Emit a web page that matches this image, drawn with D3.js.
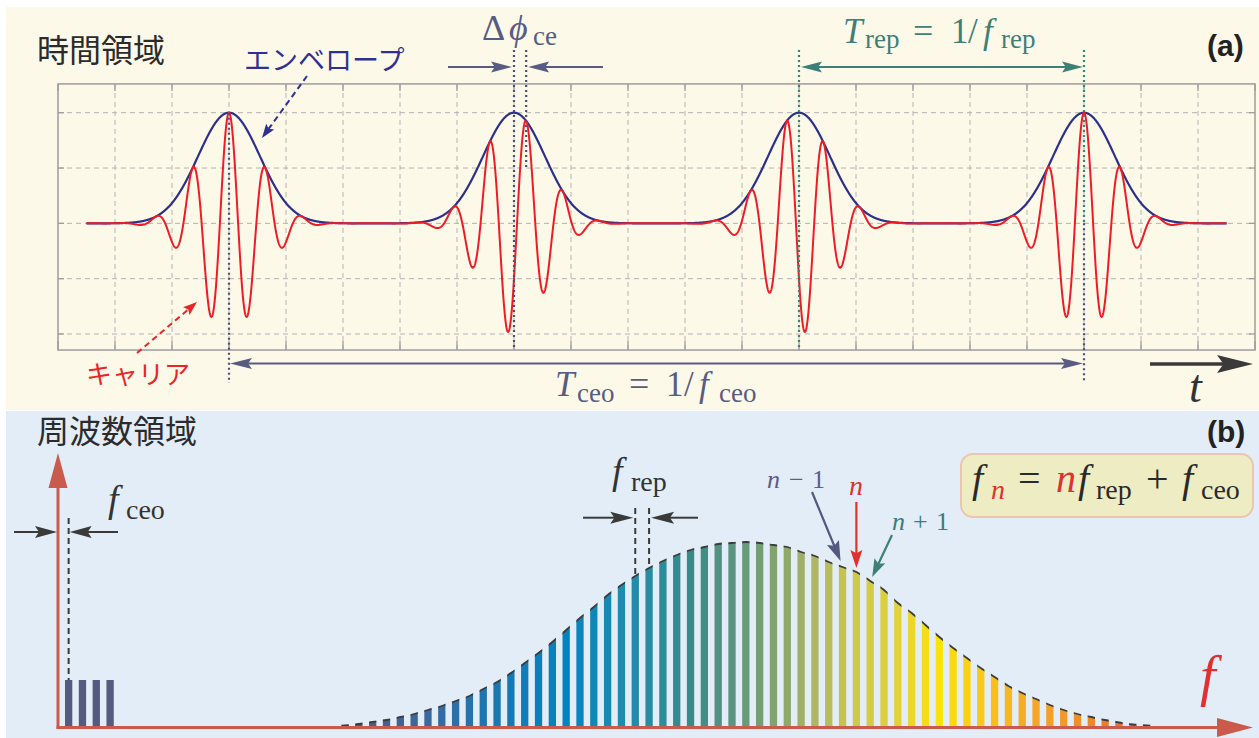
<!DOCTYPE html>
<html>
<head>
<meta charset="utf-8">
<script src="https://cdn.jsdelivr.net/npm/d3@7"></script>
<style>
  html, body { margin: 0; padding: 0; background: #ffffff; }
  svg { display: block; }
</style>
</head>
<body>
<div id="chart"></div>
<script>
// ---- (a) time domain ----
const gridCols = d3.range(0, 22);              // one column per grid unit
const gridRows = [-1, -0.5, 0, 0.5, 1];
const pulseCenters = [3, 8, 13, 18];
const carrierPhases = [0, 1 / 3, 2 / 3, 1];    // carrier shift, in cycles
const carrierPeriod = 0.64;
const envelopeWidth = 0.543;
const traceSpan = [0.5, 20.5];

// ---- (b) frequency domain ----
const fceo = 0.77;                             // offset, in units of f_rep
const offsetModes = [0, 1, 2, 3];
const offsetPower = [46, 46, 46, 46];
const combFirstMode = 20;
const combPower = [0.5, 2, 4, 6, 9, 12, 16, 20, 25, 30, 37, 44, 53, 63, 73, 84, 96, 108, 119, 131,
  141, 150, 158, 165, 171, 176, 179, 182, 183, 184, 183, 181, 179, 174, 170, 164, 159, 154, 145, 136,
  123, 113, 101, 89, 78, 68, 58, 49, 40, 33, 27, 21, 16, 12, 9, 6, 3.5, 1.5, 0.5];
const colorStops = [0, 6, 12, 16, 20, 23, 25, 28, 31, 34, 37, 40, 43, 46, 49, 52, 55, 58];
const colorValues = ['#4a5887', '#3a69a0', '#127ab6', '#0284c0', '#1d8cae', '#2b8c9c', '#388a86',
  '#5a9580', '#82a270', '#adb660', '#cfc94a', '#e2d23a', '#fde20a', '#f9c818', '#f5ae24',
  '#f19a2a', '#ec7e28', '#e46428'];

const W = 1259, H = 738;
const serif = "'Liberation Serif', 'Times New Roman', serif";
const cjk = "'Noto Sans CJK JP', 'Noto Sans', sans-serif";
const slate = '#585b82', navy = '#2e3192', teal = '#3e7f78', red = '#e8262a';

const svg = d3.select('#chart').append('svg')
  .attr('width', W)
  .attr('height', H);
const defs = svg.append('defs');

svg.append('rect').attr('x', 6).attr('y', 7).attr('width', W - 6).attr('height', 403).attr('fill', '#fdf9e8');
svg.append('rect').attr('x', 6).attr('y', 411).attr('width', W - 6).attr('height', H - 411).attr('fill', '#e3edf7');

// helpers
const arrowHead = (g, x, y, ang, len, wid, color) => {
  const p = [[0, 0], [-len, -wid / 2], [-len * 0.82, 0], [-len, wid / 2]];
  g.append('path')
    .attr('d', 'M' + p.map(d => d.join(',')).join('L') + 'Z')
    .attr('transform', `translate(${x},${y}) rotate(${ang * 180 / Math.PI})`)
    .attr('fill', color);
};

const arrow = (g, x1, y1, x2, y2, o) => {
  const ang = Math.atan2(y2 - y1, x2 - x1);
  const back = o.len * 0.8;
  const sx = o.both ? x1 + Math.cos(ang) * back : x1;
  const sy = o.both ? y1 + Math.sin(ang) * back : y1;
  g.append('line')
    .attr('x1', sx).attr('y1', sy)
    .attr('x2', x2 - Math.cos(ang) * back).attr('y2', y2 - Math.sin(ang) * back)
    .attr('stroke', o.color)
    .attr('stroke-width', o.width)
    .attr('stroke-dasharray', o.dash || null);
  arrowHead(g, x2, y2, ang, o.len, o.wid, o.color);
  if (o.both) arrowHead(g, x1, y1, ang + Math.PI, o.len, o.wid, o.color);
};

const label = (g, parts, color, family) => {
  for (const p of parts) {
    g.append('text')
      .attr('x', p.x)
      .attr('y', p.y)
      .style('font-family', family || serif)
      .style('font-size', p.s + 'px')
      .style('font-style', p.i ? 'italic' : 'normal')
      .style('font-weight', p.b ? 'bold' : 'normal')
      .attr('fill', p.c || color)
      .text(p.t);
  }
};

const vline = (g, x, y1, y2, color, dash, width) => {
  g.append('line')
    .attr('x1', x).attr('x2', x).attr('y1', y1).attr('y2', y2)
    .attr('stroke', color)
    .attr('stroke-width', width)
    .attr('stroke-dasharray', dash);
};

// ================= (a) =================
const tx = d3.scaleLinear().domain([0, 21]).range([58, 1255]);
const ay = d3.scaleLinear().domain([-1, 1]).range([334, 112.7]);
const yExtent = [-1.145, 1.26];
const yTop = ay(yExtent[1]), yBottom = ay(yExtent[0]);

const ga = svg.append('g');
ga.selectAll('.vgrid')
  .data(gridCols.slice(1, -1))
  .enter()
  .append('line')
  .attr('x1', d => tx(d)).attr('x2', d => tx(d))
  .attr('y1', yTop).attr('y2', yBottom)
  .attr('stroke', '#b2b2b2')
  .attr('stroke-dasharray', '5,4');
ga.selectAll('.hgrid')
  .data(gridRows)
  .enter()
  .append('line')
  .attr('x1', tx(0)).attr('x2', tx(21))
  .attr('y1', d => ay(d)).attr('y2', d => ay(d))
  .attr('stroke', '#b2b2b2')
  .attr('stroke-dasharray', '5,4');
// ticks
ga.selectAll('.btick')
  .data(gridCols)
  .enter()
  .append('line')
  .attr('x1', d => tx(d)).attr('x2', d => tx(d))
  .attr('y1', yBottom).attr('y2', yBottom - 9)
  .attr('stroke', '#9c9c9c').attr('stroke-width', 1.3);
ga.selectAll('.ttick')
  .data(gridCols)
  .enter()
  .append('line')
  .attr('x1', d => tx(d)).attr('x2', d => tx(d))
  .attr('y1', yTop).attr('y2', yTop + 7)
  .attr('stroke', '#9c9c9c').attr('stroke-width', 1.3);
for (const side of [0, 21]) {
  ga.selectAll('.stick' + side)
    .data(gridRows)
    .enter()
    .append('line')
    .attr('x1', tx(side)).attr('x2', tx(side) + (side === 0 ? 6 : -6))
    .attr('y1', d => ay(d)).attr('y2', d => ay(d))
    .attr('stroke', '#9c9c9c').attr('stroke-width', 1.3);
}
ga.append('rect')
  .attr('x', tx(0)).attr('y', yTop)
  .attr('width', tx(21) - tx(0)).attr('height', yBottom - yTop)
  .attr('fill', 'none')
  .attr('stroke', '#9c9c9c')
  .attr('stroke-width', 1.5);

// waveforms
const gauss = (t, c) => Math.exp(-((t - c) ** 2) / (2 * envelopeWidth ** 2));
const samples = d3.range(traceSpan[0], traceSpan[1] + 1e-9, 0.004);
const envelope = samples.map(t => [t, d3.max(pulseCenters, c => gauss(t, c))]);
const carrier = samples.map(t => [t, d3.sum(pulseCenters, (c, i) =>
  gauss(t, c) * Math.cos(2 * Math.PI * ((t - c) / carrierPeriod - carrierPhases[i])))]);
const wave = d3.line().x(d => tx(d[0])).y(d => ay(d[1]));

ga.append('path').attr('d', wave(envelope))
  .attr('fill', 'none').attr('stroke', '#2d2f8c').attr('stroke-width', 2.2);
ga.append('path').attr('d', wave(carrier))
  .attr('fill', 'none').attr('stroke', '#ee1c24').attr('stroke-width', 2);

// dotted markers
const dot = '2,3';
vline(ga, tx(pulseCenters[0]), ay(1), 383, '#4b4f80', dot, 2.2);
vline(ga, tx(pulseCenters[1]), 50, yBottom, '#4b4f80', dot, 2.2);
vline(ga, tx(pulseCenters[1] + carrierPeriod * carrierPhases[1]), 50, ay(0.5), '#4b4f80', dot, 2.2);
vline(ga, tx(pulseCenters[2]), 50, yBottom, '#2f8a7a', dot, 2.2);
vline(ga, tx(pulseCenters[3]), ay(0), 383, '#4b4f80', dot, 2.2);
vline(ga, tx(pulseCenters[3]), 50, ay(0), '#2f8a7a', dot, 2.2);

// arrows (a)
const xA = tx(pulseCenters[1]), xB = tx(pulseCenters[1] + carrierPeriod * carrierPhases[1]);
arrow(ga, 448, 67, xA - 2, 67, { color: slate, width: 2, len: 21, wid: 11 });
arrow(ga, 603, 67, xB + 2, 67, { color: slate, width: 2, len: 21, wid: 11 });
arrow(ga, tx(pulseCenters[2]) + 2, 67, tx(pulseCenters[3]) - 1, 67, { color: teal, width: 2, len: 21, wid: 11, both: true });
arrow(ga, tx(pulseCenters[0]) + 1, 363.5, tx(pulseCenters[3]) - 1, 363.5, { color: slate, width: 2, len: 22, wid: 11, both: true });
arrow(ga, 1150, 364, 1253, 364, { color: '#3a3a3a', width: 3.5, len: 36, wid: 18 });
arrow(ga, 307, 76, 262, 138, { color: navy, width: 2, len: 14, wid: 10, dash: '6,4' });
arrow(ga, 137, 353, 197, 302, { color: red, width: 2, len: 14, wid: 10, dash: '6,4' });

// labels (a)
label(ga, [{ t: '時間領域', x: 37, y: 62, s: 32 }], '#2b2b2b', cjk);
label(ga, [{ t: 'エンベロープ', x: 244, y: 70, s: 27 }], navy, cjk);
label(ga, [{ t: 'キャリア', x: 86, y: 384, s: 26 }], red, cjk);
label(ga, [{ t: '(a)', x: 1207, y: 56, s: 30, b: true }], '#222222', "'Liberation Sans', Arial, sans-serif");
label(ga, [
  { t: 'Δ', x: 482, y: 40, s: 36 },
  { t: 'ϕ', x: 509, y: 40, s: 36, i: true },
  { t: 'ce', x: 533, y: 45, s: 27 }
], slate);
label(ga, [
  { t: 'T', x: 843, y: 43, s: 35, i: true },
  { t: 'rep', x: 865, y: 48, s: 27 },
  { t: '=', x: 913, y: 43, s: 36 },
  { t: '1', x: 951, y: 43, s: 35 },
  { t: '/', x: 968, y: 43, s: 35 },
  { t: 'f', x: 983, y: 43, s: 35, i: true },
  { t: 'rep', x: 1001, y: 48, s: 27 }
], teal);
label(ga, [
  { t: 'T', x: 555, y: 396, s: 35, i: true },
  { t: 'ceo', x: 577, y: 402, s: 27 },
  { t: '=', x: 629, y: 396, s: 36 },
  { t: '1', x: 666, y: 396, s: 35 },
  { t: '/', x: 684, y: 396, s: 35 },
  { t: 'f', x: 699, y: 396, s: 35, i: true },
  { t: 'ceo', x: 719, y: 402, s: 27 }
], slate);
label(ga, [{ t: 't', x: 1189, y: 402, s: 46, i: true }], '#333333');

// ================= (b) =================
const fx = d3.scaleLinear().domain([0, 1]).range([58, 71.82]);
const hy = d3.scaleLinear().domain([0, 184]).range([726, 542]);
const combColor = d3.scaleLinear().domain(colorStops).range(colorValues);
const bw = 7.3;
const gb = svg.append('g');

// offset lines near zero frequency
gb.selectAll('.offset')
  .data(offsetModes)
  .enter()
  .append('rect')
  .attr('x', d => fx(d + fceo) - bw / 2)
  .attr('y', (d, i) => hy(offsetPower[i]))
  .attr('width', bw)
  .attr('height', (d, i) => hy(0) - hy(offsetPower[i]))
  .attr('fill', '#555a80');

// comb
const combX = combPower.map((v, k) => fx(combFirstMode + k + fceo));
const combPts = combPower.map((v, k) => [combX[k], hy(v)]);
const edgePts = [[fx(combFirstMode - 1 + fceo), hy(0)], ...combPts,
  [fx(combFirstMode + combPower.length + fceo), hy(0)]];
const areaGen = d3.area().x(d => d[0]).y0(hy(0)).y1(d => d[1]).curve(d3.curveMonotoneX);
const lineGen = d3.line().x(d => d[0]).y(d => d[1]).curve(d3.curveMonotoneX);

defs.append('clipPath').attr('id', 'underComb')
  .append('path').attr('d', areaGen(edgePts));
defs.append('clipPath').attr('id', 'combCols')
  .selectAll('rect')
  .data(combX)
  .enter()
  .append('rect')
  .attr('x', d => d - bw / 2)
  .attr('y', 420)
  .attr('width', bw)
  .attr('height', 306);

gb.append('g')
  .attr('clip-path', 'url(#underComb)')
  .selectAll('rect')
  .data(combPower)
  .enter()
  .append('rect')
  .attr('x', (d, k) => combX[k] - bw / 2)
  .attr('y', d => hy(d) - 8)
  .attr('width', bw)
  .attr('height', d => hy(0) - hy(d) + 8)
  .attr('fill', (d, k) => combColor(k));
gb.append('path')
  .attr('d', lineGen(edgePts))
  .attr('clip-path', 'url(#combCols)')
  .attr('fill', 'none')
  .attr('stroke', '#3c3c3c')
  .attr('stroke-width', 1.8);

// axes (b)
const axisRed = '#c95a4c';
gb.append('line').attr('x1', 58).attr('x2', 58).attr('y1', 729).attr('y2', 486)
  .attr('stroke', axisRed).attr('stroke-width', 3);
gb.append('path').attr('d', 'M58,453L48.5,488L67.5,488Z').attr('fill', axisRed);
gb.append('line').attr('x1', 56.5).attr('x2', 1219).attr('y1', 727.5).attr('y2', 727.5)
  .attr('stroke', axisRed).attr('stroke-width', 3);
gb.append('path').attr('d', 'M1253,727.5L1217,718L1217,737Z').attr('fill', axisRed);

// f_ceo marker
const dark = '#3a3a3a';
vline(gb, fx(fceo), 518, hy(offsetPower[0]), dark, '6,4', 2);
arrow(gb, 14, 532, fx(0) - 1, 532, { color: dark, width: 2, len: 22, wid: 12 });
arrow(gb, 118, 532, fx(fceo) + 1, 532, { color: dark, width: 2, len: 22, wid: 12 });

// f_rep marker
const kr = 21;
vline(gb, combX[kr], 508, hy(combPower[kr]), dark, '6,4', 2);
vline(gb, combX[kr + 1], 508, hy(combPower[kr + 1]), dark, '6,4', 2);
arrow(gb, 583, 517.7, combX[kr] - 2, 517.7, { color: dark, width: 2, len: 23, wid: 12 });
arrow(gb, 698, 517.7, combX[kr + 1] + 2, 517.7, { color: dark, width: 2, len: 23, wid: 12 });

// n-1, n, n+1 pointers
const kn = 37;
arrow(gb, 812, 492, combX[kn - 1] - 2, hy(combPower[kn - 1]) - 6, { color: '#55587f', width: 2.2, len: 20, wid: 13 });
arrow(gb, combX[kn], 502, combX[kn], hy(combPower[kn]) - 4, { color: '#e03030', width: 2.2, len: 18, wid: 12 });
arrow(gb, 892, 535, combX[kn + 1] + 2, hy(combPower[kn + 1]) - 4, { color: teal, width: 2.2, len: 18, wid: 12 });

// formula box
gb.append('rect')
  .attr('x', 961).attr('y', 454)
  .attr('width', 292).attr('height', 63)
  .attr('rx', 12)
  .attr('fill', '#eeecc2')
  .attr('stroke', '#ebc6ae')
  .attr('stroke-width', 2);

// labels (b)
label(gb, [{ t: '周波数領域', x: 37, y: 443, s: 32 }], '#2b2b2b', cjk);
label(gb, [{ t: '(b)', x: 1207, y: 442, s: 30, b: true }], '#222222', "'Liberation Sans', Arial, sans-serif");
label(gb, [
  { t: 'f', x: 972, y: 492, s: 40, i: true },
  { t: 'n', x: 991, y: 499, s: 28, i: true, c: '#e03030' },
  { t: '=', x: 1018, y: 492, s: 40 },
  { t: 'n', x: 1056, y: 492, s: 40, i: true, c: '#e03030' },
  { t: 'f', x: 1078, y: 492, s: 40, i: true },
  { t: 'rep', x: 1096, y: 499, s: 28 },
  { t: '+', x: 1146, y: 492, s: 40 },
  { t: 'f', x: 1182, y: 492, s: 40, i: true },
  { t: 'ceo', x: 1201, y: 499, s: 28 }
], '#2a2a2a');
label(gb, [
  { t: 'f', x: 108, y: 512, s: 38, i: true },
  { t: 'ceo', x: 126, y: 519, s: 28 }
], '#333333');
label(gb, [
  { t: 'f', x: 612, y: 484, s: 38, i: true },
  { t: 'rep', x: 631, y: 491, s: 28 }
], '#333333');
label(gb, [
  { t: 'n', x: 767, y: 488, s: 26, i: true },
  { t: '−', x: 789, y: 488, s: 26 },
  { t: '1', x: 812, y: 488, s: 26 }
], '#5a5d8c');
label(gb, [{ t: 'n', x: 849, y: 495, s: 28, i: true }], '#e03030');
label(gb, [
  { t: 'n', x: 892, y: 530, s: 26, i: true },
  { t: '+', x: 913, y: 530, s: 26 },
  { t: '1', x: 936, y: 530, s: 26 }
], '#3f7a78');
label(gb, [{ t: 'f', x: 1200, y: 695, s: 56, i: true }], '#e03030');
</script>
</body>
</html>
